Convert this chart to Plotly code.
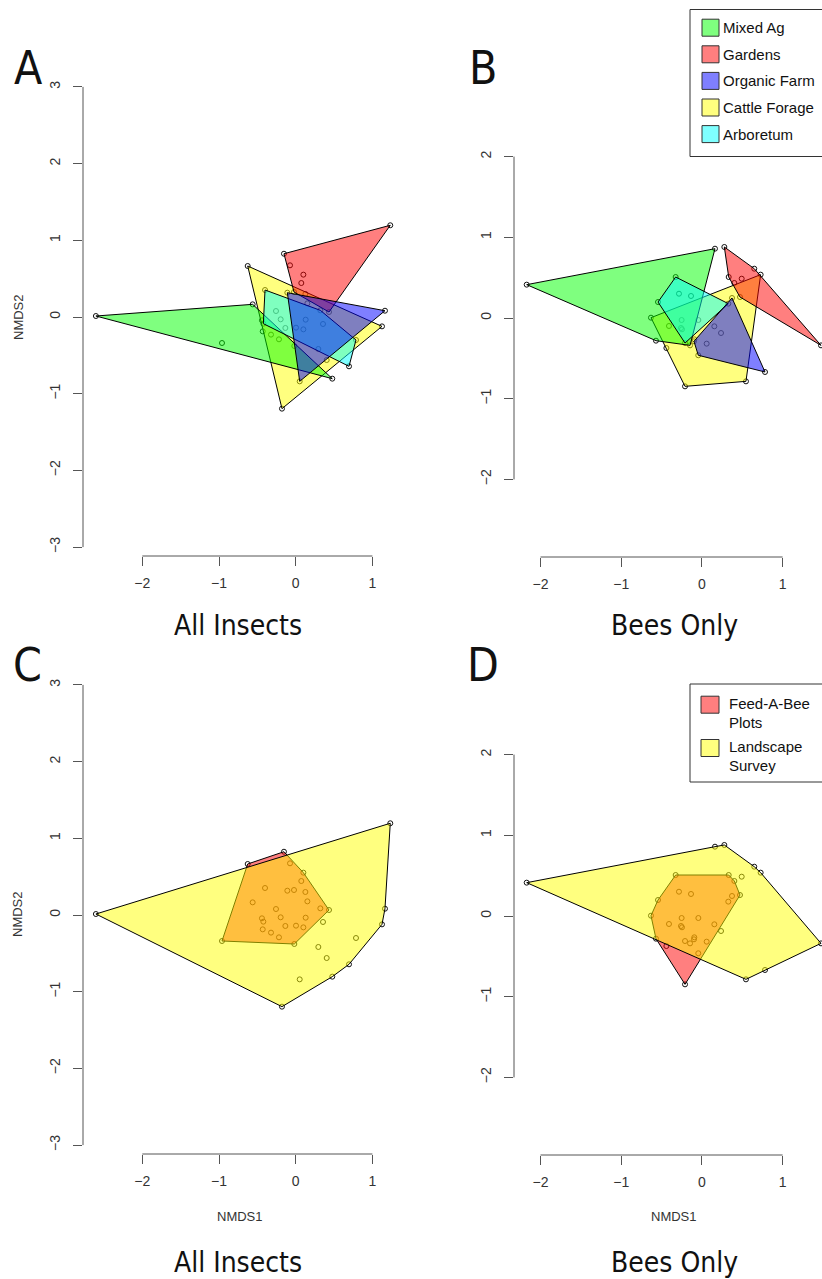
import plotly.graph_objects as go

W, H = 822, 1279

# ---------------- data: NMDS site scores, all insects (panels A, C) ----------------
ins_x = [1.233, -0.153, -0.626, -0.961, -0.018, 0.434, 1.164, 1.125, 0.695, 0.477,
         -0.179, -2.605, -0.074, 0.100, 0.073, -0.400, -0.109, -0.022, 0.126, 0.152,
         -0.561, -0.257, 0.321, -0.196, -0.440, -0.422, 0.130, 0.356, -0.430, -0.322,
         -0.218, -0.135, 0.004, 0.100, 0.295, 0.404, 0.786, 0.052]
ins_y = [1.196, 0.825, 0.665, -0.339, -0.378, 0.065, 0.082, -0.122, -0.643, -0.804,
         -1.195, 0.013, 0.674, 0.552, 0.443, 0.352, 0.317, 0.326, 0.300, 0.178,
         0.165, 0.078, 0.087, -0.030, -0.043, -0.087, -0.035, -0.091, -0.187, -0.230,
         -0.291, -0.143, -0.139, -0.161, -0.417, -0.561, -0.300, -0.839]
ins_habitat = ["Gardens", "Gardens", "Cattle Forage", "Mixed Ag", "Cattle Forage", "Gardens",
               "Organic Farm", "Cattle Forage", "Arboretum", "Mixed Ag",
               "Cattle Forage", "Mixed Ag", "Gardens", "Gardens", "Gardens", "Arboretum",
               "Organic Farm", "Gardens", "Cattle Forage", "Organic Farm",
               "Mixed Ag", "Arboretum", "Arboretum", "Arboretum", "Cattle Forage", "Arboretum",
               "Organic Farm", "Arboretum", "Mixed Ag", "Mixed Ag",
               "Mixed Ag", "Arboretum", "Organic Farm", "Organic Farm", "Cattle Forage",
               "Cattle Forage", "Arboretum", "Organic Farm"]
ins_survey = ["Landscape", "FAB", "FAB", "FAB", "FAB", "FAB", "Landscape", "Landscape",
              "Landscape", "Landscape", "Landscape", "Landscape", "FAB", "FAB", "FAB", "FAB",
              "FAB", "FAB", "FAB", "FAB", "FAB", "FAB", "FAB", "FAB", "FAB", "FAB", "FAB",
              "Landscape", "FAB", "FAB", "FAB", "FAB", "FAB", "FAB", "Landscape", "Landscape",
              "Landscape", "Landscape"]

# ---------------- data: NMDS site scores, bees only (panels B, D) ----------------
bee_x = [-2.171, 0.162, 0.278, 0.649, 0.728, 1.476, 0.782, 0.546, -0.209, -0.325,
         0.332, 0.402, 0.493, 0.472, 0.373, 0.327, -0.544, -0.631, -0.284, -0.135,
         -0.251, -0.044, -0.408, -0.259, -0.247, 0.154, 0.237, -0.094, -0.098, -0.209,
         -0.147, 0.059, -0.440, -0.045, -0.569]
bee_y = [0.413, 0.859, 0.880, 0.611, 0.537, -0.339, -0.669, -0.785, -0.847, 0.508,
         0.508, 0.434, 0.487, 0.260, 0.248, 0.178, 0.198, 0.004, 0.301, 0.273,
         -0.025, -0.025, -0.099, -0.124, -0.140, -0.103, -0.186, -0.264, -0.289, -0.310,
         -0.339, -0.318, -0.372, -0.462, -0.281]
bee_habitat = ["Mixed Ag", "Mixed Ag", "Gardens", "Gardens", "Cattle Forage", "Gardens",
               "Organic Farm", "Cattle Forage", "Cattle Forage", "Arboretum",
               "Gardens", "Gardens", "Gardens", "Gardens", "Organic Farm", "Arboretum",
               "Arboretum", "Cattle Forage", "Arboretum", "Arboretum",
               "Arboretum", "Arboretum", "Mixed Ag", "Arboretum", "Arboretum", "Organic Farm",
               "Organic Farm", "Cattle Forage", "Organic Farm", "Arboretum",
               "Mixed Ag", "Organic Farm", "Cattle Forage", "Organic Farm", "Mixed Ag"]
bee_survey = ["Landscape", "Landscape", "Landscape", "Landscape", "Landscape", "Landscape",
              "Landscape", "Landscape", "FAB", "FAB", "FAB", "FAB", "Landscape", "FAB",
              "FAB", "FAB", "FAB", "FAB", "FAB", "FAB", "FAB", "FAB", "FAB", "FAB", "FAB",
              "FAB", "Landscape", "FAB", "FAB", "FAB", "FAB", "FAB", "FAB", "FAB", "FAB"]

habitat_legend = ["Mixed Ag", "Gardens", "Organic Farm", "Cattle Forage", "Arboretum"]
habitat_draw_order = ["Cattle Forage", "Mixed Ag", "Gardens", "Arboretum", "Organic Farm"]
habitat_colors = {"Mixed Ag": "rgba(0,255,0,0.5)", "Gardens": "rgba(255,0,0,0.5)",
                  "Organic Farm": "rgba(0,0,255,0.5)", "Cattle Forage": "rgba(255,255,0,0.5)",
                  "Arboretum": "rgba(0,255,255,0.5)"}
survey_order = ["FAB", "Landscape"]
survey_labels = {"FAB": ["Feed-A-Bee", "Plots"], "Landscape": ["Landscape", "Survey"]}
survey_colors = {"FAB": "rgba(255,0,0,0.5)", "Landscape": "rgba(255,255,0,0.5)"}

x_ticks = [-2, -1, 0, 1]
y_ticks_ins = [-3, -2, -1, 0, 1, 2, 3]
y_ticks_bee = [-2, -1, 0, 1, 2]

# panel geometry in pixels: left, right, top, bottom, x0px, y0px, px-per-unit
panels = {
    1: dict(l=83, r=401, t=78, b=556, x0=295.7, y0=317, s=76.7),
    2: dict(l=514, r=822, t=79, b=557, x0=701.9, y0=318, s=80.7),
    3: dict(l=83, r=401, t=676, b=1154, x0=295.7, y0=915, s=76.7),
    4: dict(l=514, r=822, t=677, b=1155, x0=701.9, y0=916, s=80.7),
}

SANS = "Liberation Sans, Arial, sans-serif"
BIG = "DejaVu Sans Condensed, DejaVu Sans, sans-serif"
AXC = "#555555"
TXC = "#333333"


def hull(px, py):
    pts = sorted(set(zip(px, py)))
    if len(pts) < 3:
        return pts

    def cross(o, a, b):
        return (a[0] - o[0]) * (b[1] - o[1]) - (a[1] - o[1]) * (b[0] - o[0])

    lower, upper = [], []
    for p in pts:
        while len(lower) >= 2 and cross(lower[-2], lower[-1], p) <= 0:
            lower.pop()
        lower.append(p)
    for p in reversed(pts):
        while len(upper) >= 2 and cross(upper[-2], upper[-1], p) <= 0:
            upper.pop()
        upper.append(p)
    return lower[:-1] + upper[:-1]


fig = go.Figure()


def add_panel(k, xs, ys, labels, order, colors):
    xa, ya = ("x", "y") if k == 1 else (f"x{k}", f"y{k}")
    fig.add_trace(go.Scatter(x=xs, y=ys, mode="markers", xaxis=xa, yaxis=ya,
                             marker=dict(symbol="circle-open", size=5, color="#111111",
                                         line=dict(width=1)),
                             hoverinfo="skip", showlegend=False))
    for g in order:
        gx = [x for x, l in zip(xs, labels) if l == g]
        gy = [y for y, l in zip(ys, labels) if l == g]
        h = hull(gx, gy)
        hx = [p[0] for p in h] + [h[0][0]]
        hy = [p[1] for p in h] + [h[0][1]]
        fig.add_trace(go.Scatter(x=hx, y=hy, mode="lines", fill="toself", xaxis=xa, yaxis=ya,
                                 fillcolor=colors[g], line=dict(color="black", width=1),
                                 hoverinfo="skip", showlegend=False, name=g))


add_panel(1, ins_x, ins_y, ins_habitat, habitat_draw_order, habitat_colors)
add_panel(2, bee_x, bee_y, bee_habitat, habitat_draw_order, habitat_colors)
add_panel(3, ins_x, ins_y, ins_survey, survey_order, survey_colors)
add_panel(4, bee_x, bee_y, bee_survey, survey_order, survey_colors)

layout = dict(width=W, height=H, margin=dict(l=0, r=0, t=0, b=0),
              paper_bgcolor="white", plot_bgcolor="white", showlegend=False)
shapes = []
annotations = []

for k, p in panels.items():
    s = p["s"]
    xr = [(p["l"] - p["x0"]) / s, (p["r"] - p["x0"]) / s]
    yr = [(p["y0"] - p["b"]) / s, (p["y0"] - p["t"]) / s]
    yt = y_ticks_ins if k in (1, 3) else y_ticks_bee
    xname = "xaxis" if k == 1 else f"xaxis{k}"
    yname = "yaxis" if k == 1 else f"yaxis{k}"
    xa, ya = ("x", "y") if k == 1 else (f"x{k}", f"y{k}")
    layout[xname] = dict(domain=[p["l"] / W, p["r"] / W], range=xr, anchor=ya,
                         showgrid=False, zeroline=False, showline=False,
                         tickmode="array", tickvals=x_ticks, ticks="outside", ticklen=9,
                         tickwidth=1, tickcolor=AXC, ticklabelstandoff=5,
                         tickfont=dict(family=SANS, size=14, color=TXC), fixedrange=True)
    layout[yname] = dict(domain=[1 - p["b"] / H, 1 - p["t"] / H], range=yr, anchor=xa,
                         showgrid=False, zeroline=False, showline=False,
                         tickmode="array", tickvals=yt, ticks="outside", ticklen=9,
                         tickwidth=1, tickcolor=AXC, tickangle=-90, ticklabelstandoff=7,
                         tickfont=dict(family=SANS, size=14, color=TXC), fixedrange=True)
    # R-style axis lines spanning only first..last tick
    shapes.append(dict(type="line", xref=xa, yref=f"{ya} domain", x0=x_ticks[0], x1=x_ticks[-1],
                       y0=0, y1=0, line=dict(color=AXC, width=1)))
    shapes.append(dict(type="line", xref=f"{xa} domain", yref=ya, x0=0, x1=0,
                       y0=yt[0], y1=yt[-1], line=dict(color=AXC, width=1)))


def ann(text, x, y, size, family=SANS, angle=0, xanchor="center", color=TXC):
    annotations.append(dict(text=text, x=x / W, y=1 - y / H, xref="paper", yref="paper",
                            showarrow=False, xanchor=xanchor, yanchor="middle",
                            textangle=angle, font=dict(family=family, size=size, color=color)))


# panel letters
for letter, (x, y) in {"A": (28, 68), "B": (483, 68), "C": (27, 665), "D": (483, 665)}.items():
    ann(letter, x, y, 46, family=BIG, color="#111111")
# subtitles
ann("All Insects", 238, 625, 28, family=BIG, color="#111111")
ann("Bees Only", 674, 625, 28, family=BIG, color="#111111")
ann("All Insects", 238, 1262, 28, family=BIG, color="#111111")
ann("Bees Only", 674, 1262, 28, family=BIG, color="#111111")
# axis titles
ann("NMDS2", 18, 317, 13, angle=-90)
ann("NMDS2", 18, 914, 13, angle=-90)
ann("NMDS1", 240, 1216, 13)
ann("NMDS1", 674, 1216, 13)

# legend: habitats (top right)
shapes.append(dict(type="rect", xref="paper", yref="paper", x0=690 / W, x1=850 / W,
                   y0=1 - 156.5 / H, y1=1 - 9.5 / H, line=dict(color="#333333", width=1),
                   fillcolor="white", layer="above"))
for i, g in enumerate(habitat_legend):
    cy = 27.7 + i * 26.6
    shapes.append(dict(type="rect", xref="paper", yref="paper", x0=702 / W, x1=719 / W,
                       y0=1 - (cy + 8.5) / H, y1=1 - (cy - 8.5) / H,
                       line=dict(color="#333333", width=1), fillcolor=habitat_colors[g]))
    ann(g, 721, cy, 15, xanchor="left", color="#111111")

# legend: survey type (panel D)
shapes.append(dict(type="rect", xref="paper", yref="paper", x0=690 / W, x1=850 / W,
                   y0=1 - 782 / H, y1=1 - 684 / H, line=dict(color="#333333", width=1),
                   fillcolor="white", layer="above"))
for i, g in enumerate(survey_order):
    cy = 704.7 + i * 43.3
    shapes.append(dict(type="rect", xref="paper", yref="paper", x0=701 / W, x1=719 / W,
                       y0=1 - (cy + 8.5) / H, y1=1 - (cy - 8.5) / H,
                       line=dict(color="#333333", width=1), fillcolor=survey_colors[g]))
    ann(survey_labels[g][0], 727, cy - 1.4, 15, xanchor="left", color="#111111")
    ann(survey_labels[g][1], 727, cy + 17.5, 15, xanchor="left", color="#111111")

layout["shapes"] = shapes
layout["annotations"] = annotations
fig.update_layout(**layout)
fig.write_html("out.html")
